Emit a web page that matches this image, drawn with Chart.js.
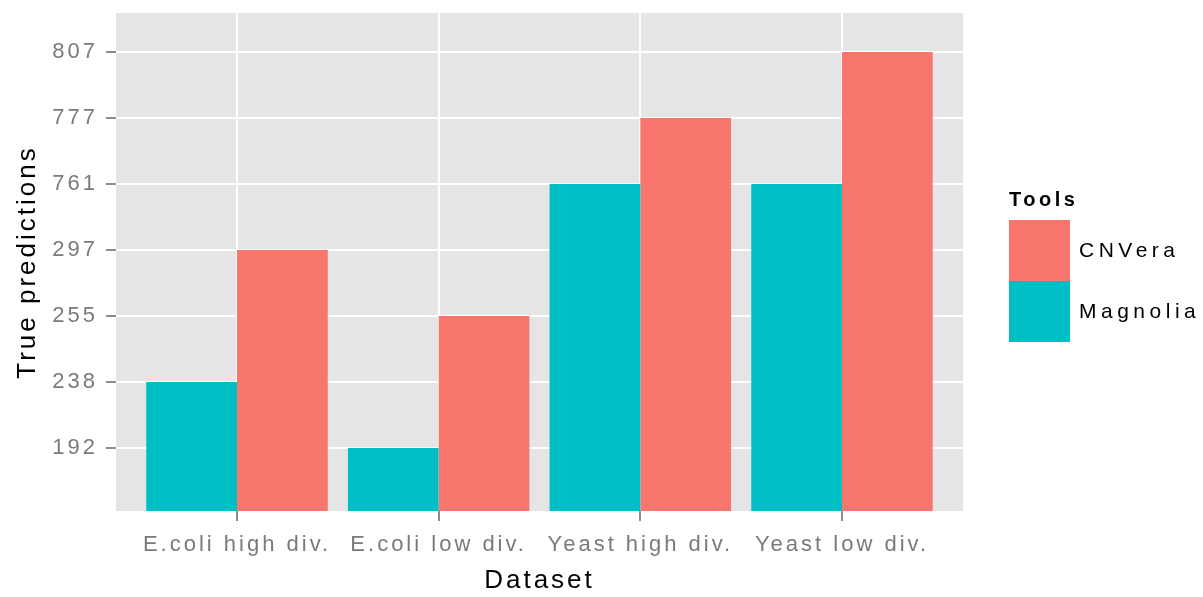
<!DOCTYPE html>
<html>
<head>
<meta charset="utf-8">
<script src="https://cdn.jsdelivr.net/npm/chart.js@4/dist/chart.umd.min.js"></script>
<style>
html, body { margin: 0; padding: 0; background: #ffffff; }
canvas { display: block; }
</style>
</head>
<body>
<canvas id="chart" width="1203" height="597"></canvas>
<script>
// ---- data ----
const categories = ['E.coli high div.', 'E.coli low div.', 'Yeast high div.', 'Yeast low div.'];
const yTickLabels = ['192', '238', '255', '297', '761', '777', '807'];   // discrete (factor) levels of the y axis
const magnoliaValues = [238, 192, 761, 761];
const cnveraValues = [297, 255, 777, 807];
const legendOrder = ['CNVera', 'Magnolia'];

const FONT = "'Liberation Sans', Arial, Helvetica, sans-serif";
const TEXT_SPACING = '3px';

// y axis is discrete: each value sits at the position of its level
function toPoints(values) {
  return values.map((v, i) => ({ x: i + 1, y: yTickLabels.indexOf(String(v)) + 1 }));
}

const ggPlugin = {
  id: 'ggPanel',
  beforeLayout(chart) { chart.ctx.letterSpacing = TEXT_SPACING; },
  beforeDraw(chart) {
    const { ctx, chartArea: a } = chart;
    ctx.save();
    ctx.fillStyle = '#E5E5E5';
    ctx.fillRect(a.left, a.top, a.right - a.left, a.bottom - a.top);
    ctx.restore();
    ctx.letterSpacing = TEXT_SPACING;
  },
  afterDraw(chart) {
    const ctx = chart.ctx;
    ctx.save();
    const x0 = 1009, keySize = 61, top = 220;
    ctx.fillStyle = '#000000';
    ctx.letterSpacing = '3.5px';
    ctx.font = 'bold 20px ' + FONT;
    ctx.textAlign = 'left';
    ctx.textBaseline = 'alphabetic';
    ctx.fillText('Tools', x0, 206);
    ctx.font = '21px ' + FONT;
    ctx.letterSpacing = '4.5px';
    ctx.textBaseline = 'middle';
    legendOrder.forEach((name, i) => {
      const ds = chart.data.datasets.find(d => d.label === name);
      const y = top + i * keySize;
      ctx.fillStyle = ds.backgroundColor;
      ctx.fillRect(x0, y, keySize, keySize);
      ctx.fillStyle = '#000000';
      ctx.fillText(name, 1079, y + keySize / 2 + 1);
    });
    ctx.restore();
  }
};

const gridOpts = { color: '#FFFFFF', lineWidth: 2, tickColor: '#666666', tickLength: 10, tickWidth: 1.5, drawTicks: true, offset: false };

new Chart(document.getElementById('chart'), {
  type: 'bar',
  data: {
    datasets: [
      { label: 'Magnolia', data: toPoints(magnoliaValues), backgroundColor: '#00BFC4', borderWidth: 0,
        categoryPercentage: 0.9, barPercentage: 1.0 },
      { label: 'CNVera', data: toPoints(cnveraValues), backgroundColor: '#F8766D', borderWidth: 0,
        categoryPercentage: 0.9, barPercentage: 1.0 }
    ]
  },
  options: {
    responsive: false,
    devicePixelRatio: 1,
    animation: false,
    layout: { padding: { left: 12, top: 13, right: 240, bottom: 0 } },
    plugins: { legend: { display: false }, tooltip: { enabled: false } },
    scales: {
      x: {
        type: 'linear',
        offset: false,
        min: 0.4, max: 4.6,
        afterBuildTicks(s) { s.ticks = categories.map((c, i) => ({ value: i + 1 })); },
        afterFit(s) { s.height = 86; s.paddingLeft = 0; s.paddingRight = 0; },
        ticks: {
          callback: (v) => categories[Math.round(v) - 1],
          color: '#7A7A7A', font: { family: FONT, size: 22 }, padding: 11,
          autoSkip: false, maxRotation: 0, minRotation: 0
        },
        grid: gridOpts,
        border: { display: false },
        title: { display: true, text: 'Dataset', color: '#000000', font: { family: FONT, size: 26, lineHeight: 1.25 }, padding: 0 }
      },
      y: {
        type: 'linear',
        offset: false,
        min: 0.045, max: 7.59,
        afterBuildTicks(s) { s.ticks = yTickLabels.map((t, i) => ({ value: i + 1 })); },
        afterFit(s) { s.width = 104; s.paddingTop = 0; s.paddingBottom = 0; },
        ticks: {
          callback: (v) => yTickLabels[Math.round(v) - 1],
          color: '#7A7A7A', font: { family: FONT, size: 22 }, padding: 8
        },
        grid: gridOpts,
        border: { display: false },
        title: { display: true, text: 'True predictions', color: '#000000', font: { family: FONT, size: 26, lineHeight: 1.2 }, padding: 0 }
      }
    }
  },
  plugins: [ggPlugin]
});
</script>
</body>
</html>
